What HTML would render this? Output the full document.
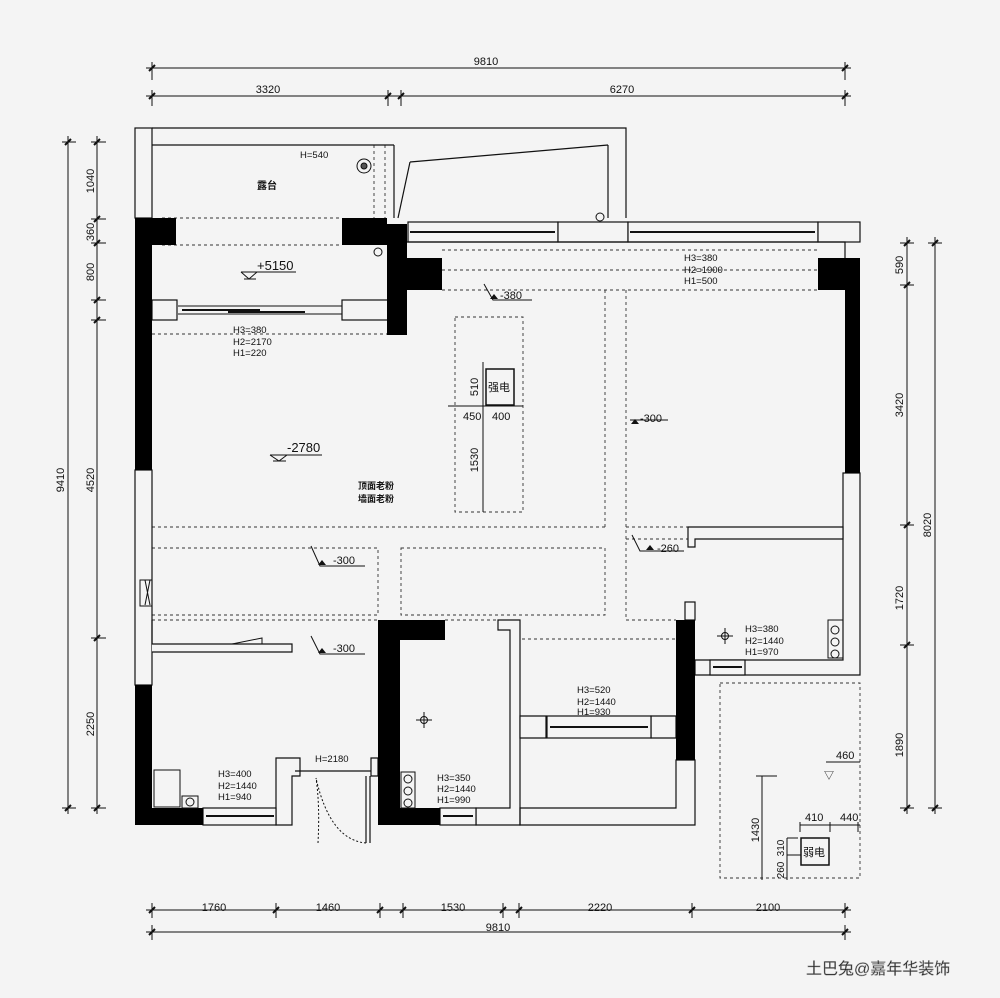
<!DOCTYPE html>
<html><head><meta charset="utf-8"><style>
html,body{margin:0;padding:0;background:#f4f4f4;}
svg{display:block}
text{font-family:"Liberation Sans","Noto Sans CJK SC",sans-serif;fill:#111}
.d{font-family:"Liberation Sans Narrow","Liberation Sans",sans-serif;font-size:11px}
.s{font-size:9.5px}
</style></head><body>
<svg width="1000" height="998" viewBox="0 0 1000 998" xmlns="http://www.w3.org/2000/svg">
<rect width="1000" height="998" fill="#f4f4f4"/>
<g stroke="#111" stroke-width="1" fill="none">
<line x1="146" y1="68" x2="851" y2="68"/>
<line x1="152" y1="62" x2="152" y2="80"/><line x1="845" y1="62" x2="845" y2="80"/>
<line x1="146" y1="96" x2="851" y2="96"/>
<line x1="152" y1="90" x2="152" y2="106"/><line x1="388" y1="90" x2="388" y2="106"/><line x1="401" y1="90" x2="401" y2="106"/><line x1="845" y1="90" x2="845" y2="106"/>
<line x1="68" y1="136" x2="68" y2="814"/>
<line x1="62" y1="142" x2="76" y2="142"/><line x1="62" y1="808" x2="76" y2="808"/>
<line x1="97" y1="136" x2="97" y2="814"/>
<line x1="91" y1="142" x2="106" y2="142"/><line x1="91" y1="219" x2="106" y2="219"/><line x1="91" y1="243" x2="106" y2="243"/><line x1="91" y1="300" x2="106" y2="300"/><line x1="91" y1="320" x2="106" y2="320"/><line x1="91" y1="638" x2="106" y2="638"/><line x1="91" y1="808" x2="106" y2="808"/>
<line x1="907" y1="237" x2="907" y2="814"/>
<line x1="900" y1="243" x2="914" y2="243"/><line x1="900" y1="285" x2="914" y2="285"/><line x1="900" y1="525" x2="914" y2="525"/><line x1="900" y1="645" x2="914" y2="645"/><line x1="900" y1="808" x2="914" y2="808"/>
<line x1="935" y1="237" x2="935" y2="814"/>
<line x1="928" y1="243" x2="942" y2="243"/><line x1="928" y1="808" x2="942" y2="808"/>
<line x1="146" y1="910" x2="851" y2="910"/>
<line x1="152" y1="903" x2="152" y2="918"/><line x1="276" y1="903" x2="276" y2="918"/><line x1="380" y1="903" x2="380" y2="918"/><line x1="403" y1="903" x2="403" y2="918"/><line x1="503" y1="903" x2="503" y2="918"/><line x1="519" y1="903" x2="519" y2="918"/><line x1="692" y1="903" x2="692" y2="918"/><line x1="845" y1="903" x2="845" y2="918"/>
<line x1="146" y1="932" x2="851" y2="932"/>
<line x1="152" y1="925" x2="152" y2="940"/><line x1="845" y1="925" x2="845" y2="940"/>
</g>
<g stroke="#111" stroke-width="2">
<path d="M149 71l6-6M842 71l6-6M149 99l6-6M385 99l6-6M398 99l6-6M842 99l6-6M65 145l6-6M65 811l6-6M94 145l6-6M94 222l6-6M94 246l6-6M94 303l6-6M94 323l6-6M94 641l6-6M94 811l6-6M904 246l6-6M904 288l6-6M904 528l6-6M904 648l6-6M904 811l6-6M932 246l6-6M932 811l6-6M149 913l6-6M273 913l6-6M377 913l6-6M400 913l6-6M500 913l6-6M516 913l6-6M689 913l6-6M842 913l6-6M149 935l6-6M842 935l6-6"/>
</g>
<g class="d">
<text x="486" y="65" text-anchor="middle" class="d">9810</text>
<text x="268" y="93" text-anchor="middle" class="d">3320</text>
<text x="622" y="93" text-anchor="middle" class="d">6270</text>
<text x="214" y="911" text-anchor="middle" class="d">1760</text>
<text x="328" y="911" text-anchor="middle" class="d">1460</text>
<text x="453" y="911" text-anchor="middle" class="d">1530</text>
<text x="600" y="911" text-anchor="middle" class="d">2220</text>
<text x="768" y="911" text-anchor="middle" class="d">2100</text>
<text x="498" y="931" text-anchor="middle" class="d">9810</text>
</g>
<g class="d">
<text transform="translate(64,480) rotate(-90)" text-anchor="middle" class="d">9410</text>
<text transform="translate(94,181) rotate(-90)" text-anchor="middle" class="d">1040</text>
<text transform="translate(94,232) rotate(-90)" text-anchor="middle" class="d">360</text>
<text transform="translate(94,272) rotate(-90)" text-anchor="middle" class="d">800</text>
<text transform="translate(94,480) rotate(-90)" text-anchor="middle" class="d">4520</text>
<text transform="translate(94,724) rotate(-90)" text-anchor="middle" class="d">2250</text>
<text transform="translate(903,265) rotate(-90)" text-anchor="middle" class="d">590</text>
<text transform="translate(903,405) rotate(-90)" text-anchor="middle" class="d">3420</text>
<text transform="translate(903,598) rotate(-90)" text-anchor="middle" class="d">1720</text>
<text transform="translate(903,745) rotate(-90)" text-anchor="middle" class="d">1890</text>
<text transform="translate(931,525) rotate(-90)" text-anchor="middle" class="d">8020</text>
</g>

<g stroke="#333" stroke-width="0.9" fill="none" stroke-dasharray="3,3">
<line x1="162" y1="218" x2="342" y2="218"/>
<line x1="162" y1="245" x2="342" y2="245"/>
<line x1="152" y1="334" x2="388" y2="334"/>
<line x1="442" y1="250" x2="818" y2="250"/>
<line x1="442" y1="270" x2="818" y2="270"/>
<line x1="442" y1="290" x2="818" y2="290"/>
<line x1="605" y1="290" x2="605" y2="527"/>
<line x1="152" y1="527" x2="605" y2="527"/>
<line x1="626" y1="290" x2="626" y2="620"/>
<line x1="626" y1="527" x2="688" y2="527"/>
<line x1="626" y1="539" x2="688" y2="539"/>
<line x1="626" y1="620" x2="676" y2="620"/>
<rect x="455" y="317" width="68" height="195"/>
<rect x="152" y="548" width="226" height="67"/>
<rect x="401" y="548" width="204" height="67"/>
<line x1="152" y1="620" x2="378" y2="620"/>
<line x1="445" y1="620" x2="498" y2="620"/>
<line x1="522" y1="639" x2="676" y2="639"/>
<rect x="720" y="683" width="140" height="195"/>
<line x1="374" y1="145" x2="374" y2="218"/>
<line x1="385" y1="145" x2="385" y2="218"/>
</g>

<g stroke="#111" stroke-width="1.2" fill="#f4f4f4">
<rect x="135" y="128" width="17" height="90"/>
<path d="M152 128H626V218M152 145H394" fill="none"/>
<path d="M394 145V218" fill="none"/>
<path d="M608 145V218M410 162L608 145M410 162L398 218" fill="none"/>
<rect x="135" y="470" width="17" height="215"/>
<path d="M152 620V644H292V652H152" fill="#f4f4f4"/>
<rect x="152" y="300" width="25" height="20"/>
<rect x="342" y="300" width="46" height="20"/>
<rect x="408" y="222" width="150" height="20"/>
<rect x="558" y="222" width="70" height="20"/>
<rect x="628" y="222" width="190" height="20"/>
<rect x="818" y="222" width="42" height="20"/>
<path d="M405 242H845V258" fill="none"/>
<path d="M843 473H860V675H695V660H843Z"/>
<path d="M688 527H843V539H695V547H688Z"/>
<rect x="685" y="602" width="10" height="18"/>
<path d="M498 620H520V825H476V808H510V630H498Z"/>
<path d="M520 716H546V738H520Z"/><path d="M651 716H676V738H651Z"/>
<path d="M520 808H676V760H695V825H520Z" fill="none"/>
<path d="M276 758H300V776H292V825H276Z"/>
<path d="M371 758H378V776H371Z"/>
<rect x="203" y="808" width="73" height="17"/>
<rect x="440" y="808" width="36" height="17"/>
<rect x="710" y="660" width="35" height="15"/>
<rect x="547" y="716" width="104" height="22"/>
<line x1="295" y1="771" x2="371" y2="771"/>
<line x1="366" y1="776" x2="366" y2="843"/>
<line x1="370" y1="776" x2="370" y2="843"/>
</g>
<g stroke="#111" stroke-width="1" fill="none">
<line x1="178" y1="306" x2="342" y2="306"/><line x1="178" y1="314" x2="342" y2="314"/>
<line x1="182" y1="310" x2="260" y2="310" stroke-width="2"/><line x1="228" y1="312" x2="305" y2="312" stroke-width="2"/>
<line x1="410" y1="232" x2="555" y2="232" stroke-width="2"/>
<line x1="630" y1="232" x2="815" y2="232" stroke-width="2"/>
<line x1="550" y1="727" x2="648" y2="727" stroke-width="2"/>
<line x1="206" y1="816" x2="274" y2="816" stroke-width="2"/>
<line x1="443" y1="816" x2="473" y2="816" stroke-width="2"/>
<line x1="713" y1="667" x2="742" y2="667" stroke-width="2"/>
<path d="M318 843Q320 805 316 778" stroke-dasharray="2,2"/>
<path d="M366 843Q330 840 316 778" stroke-dasharray="2,2"/>
<path d="M145 580L150 605M150 580L145 605"/><rect x="140" y="580" width="12" height="26"/>
<path d="M232 644H262V638Z"/>
</g>
<g fill="#000">
<rect x="135" y="218" width="17" height="252"/>
<rect x="135" y="218" width="41" height="27"/>
<rect x="342" y="218" width="45" height="27"/>
<rect x="362" y="218" width="25" height="4"/>
<rect x="387" y="224" width="20" height="111"/>
<rect x="401" y="258" width="41" height="32"/>
<rect x="818" y="258" width="42" height="32"/>
<rect x="845" y="258" width="15" height="215"/>
<rect x="135" y="685" width="17" height="140"/>
<rect x="135" y="808" width="68" height="17"/>
<rect x="378" y="620" width="67" height="20"/>
<rect x="378" y="620" width="22" height="205"/>
<rect x="378" y="808" width="62" height="17"/>
<rect x="676" y="620" width="19" height="140"/>
</g>
<g stroke="#111" fill="none" stroke-width="1">
<circle cx="364" cy="166" r="7"/><circle cx="364" cy="166" r="3" fill="#555"/>
<circle cx="378" cy="252" r="4"/><circle cx="600" cy="217" r="4"/>
<rect x="154" y="770" width="26" height="37"/><rect x="182" y="796" width="16" height="12"/><circle cx="190" cy="802" r="4"/>
<rect x="401" y="772" width="14" height="36"/><circle cx="408" cy="779" r="4"/><circle cx="408" cy="791" r="4"/><circle cx="408" cy="803" r="4"/>
<rect x="828" y="620" width="15" height="38"/><circle cx="835" cy="630" r="4"/><circle cx="835" cy="642" r="4"/><circle cx="835" cy="654" r="4"/>
<circle cx="424" cy="720" r="3.5"/><path d="M416 720H432M424 712V728"/>
<circle cx="725" cy="636" r="3.5"/><path d="M717 636H733M725 628V644"/>
<rect x="486" y="369" width="28" height="36" stroke-width="1.5"/>
<rect x="801" y="838" width="28" height="27" stroke-width="1.5"/>
<path d="M241 272H296M241 272L249 279L257 272M244 279H256"/>
<path d="M270 455H322M270 455L279 461L287 455M273 461H286"/>
<path d="M484 284L493 300H532"/><path d="M311 546L320 566H365"/><path d="M311 636L320 654H365"/>
<path d="M630 420H668"/><path d="M632 535L640 551H684"/>
<path d="M483 362V512M448 406H523"/>
<path d="M762 776V880M756 776H777M787 838V880M787 838H798M787 855H801M800 825H860M800 822V832M830 822V832M858 822V832M826 762H860"/>
</g>
<g fill="#111">
<path d="M490 299l4-5 4 5z"/><path d="M318 565l4-5 4 5z"/><path d="M318 653l4-5 4 5z"/><path d="M631 424l4-5 4 5z"/><path d="M646 550l4-5 4 5z"/>
</g>
<g class="s">
<text x="300" y="158" font-size="9.5">H=540</text>
<text x="257" y="189" font-size="10" font-weight="bold">露台</text>
<text x="257" y="270" font-size="13">+5150</text>
<text x="233" y="333" font-size="9.5">H3=380</text>
<text x="233" y="345" font-size="9.5">H2=2170</text>
<text x="233" y="356" font-size="9.5">H1=220</text>
<text x="287" y="452" font-size="13">-2780</text>
<text x="358" y="489" font-size="9" font-weight="bold">顶面老粉</text>
<text x="358" y="502" font-size="9" font-weight="bold">墙面老粉</text>
<text x="500" y="299" font-size="11">-380</text>
<text x="684" y="261" font-size="9.5">H3=380</text>
<text x="684" y="273" font-size="9.5">H2=1900</text>
<text x="684" y="284" font-size="9.5">H1=500</text>
<text x="488" y="391" font-size="11">强电</text>
<text x="463" y="420" font-size="11" class="d">450</text>
<text x="492" y="420" font-size="11" class="d">400</text>
<text transform="translate(478,387) rotate(-90)" text-anchor="middle" font-size="11">510</text>
<text transform="translate(478,460) rotate(-90)" text-anchor="middle" font-size="11">1530</text>
<text x="640" y="422" font-size="11">-300</text>
<text x="333" y="564" font-size="11">-300</text>
<text x="333" y="652" font-size="11">-300</text>
<text x="657" y="552" font-size="11">-260</text>
<text x="745" y="632" font-size="9.5">H3=380</text>
<text x="745" y="644" font-size="9.5">H2=1440</text>
<text x="745" y="655" font-size="9.5">H1=970</text>
<text x="577" y="693" font-size="9.5">H3=520</text>
<text x="577" y="705" font-size="9.5">H2=1440</text>
<text x="577" y="715" font-size="9.5">H1=930</text>
<text x="315" y="762" font-size="9.5">H=2180</text>
<text x="218" y="777" font-size="9.5">H3=400</text>
<text x="218" y="789" font-size="9.5">H2=1440</text>
<text x="218" y="800" font-size="9.5">H1=940</text>
<text x="437" y="781" font-size="9.5">H3=350</text>
<text x="437" y="792" font-size="9.5">H2=1440</text>
<text x="437" y="803" font-size="9.5">H1=990</text>
<text x="836" y="759" font-size="11">460</text>
<text x="824" y="779" font-size="10">▽</text>
<text x="805" y="821" font-size="11">410</text>
<text x="840" y="821" font-size="11">440</text>
<text x="803" y="856" font-size="11">弱电</text>
<text transform="translate(759,830) rotate(-90)" text-anchor="middle" font-size="11">1430</text>
<text transform="translate(784,848) rotate(-90)" text-anchor="middle" font-size="10">310</text>
<text transform="translate(784,870) rotate(-90)" text-anchor="middle" font-size="10">260</text>
<text x="806" y="974" font-size="16" fill="#fff" stroke="#aaa" stroke-width="0.5">土巴兔@嘉年华装饰</text>
</g>
</svg>
</body></html>
